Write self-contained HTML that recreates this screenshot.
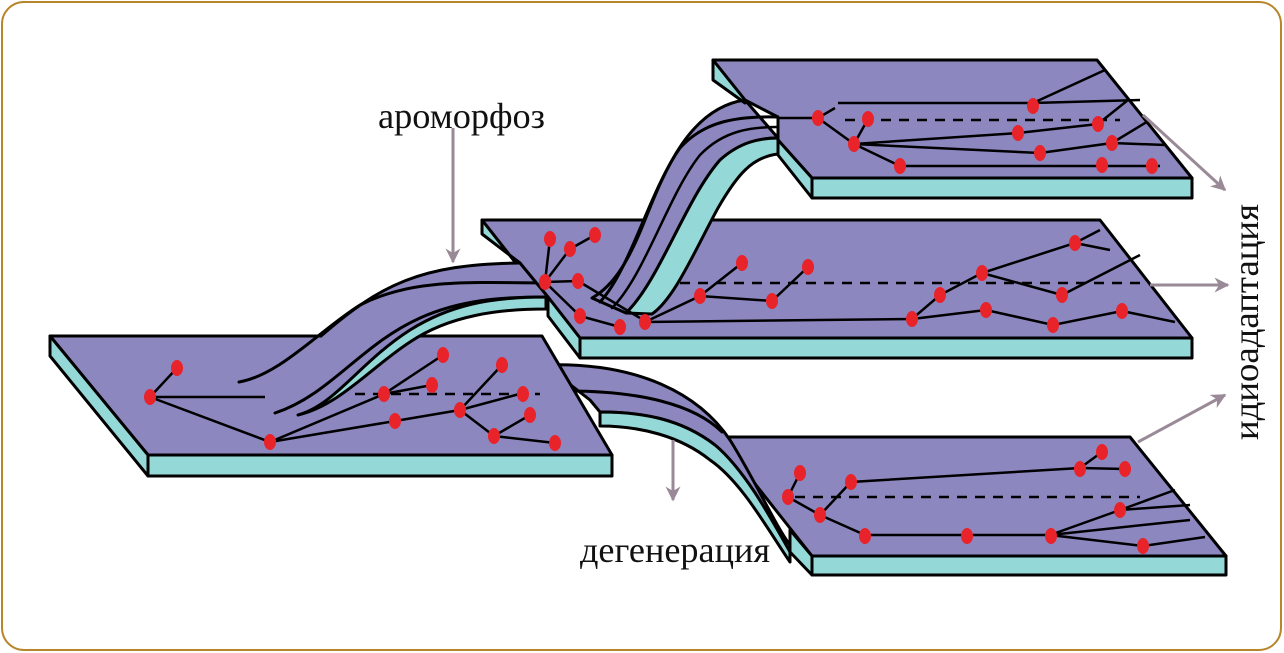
<!DOCTYPE html>
<html><head><meta charset="utf-8"><style>
html,body{margin:0;padding:0;background:#fff;}
svg{display:block;}
text{font-family:"Liberation Serif",serif;fill:#111;}
</style></head><body>
<svg width="1284" height="653" viewBox="0 0 1284 653" xmlns="http://www.w3.org/2000/svg">
<defs>
<marker id="ah" viewBox="0 0 10 10" refX="9" refY="5" markerWidth="5" markerHeight="5" orient="auto"><path d="M0,0 L10,5 L0,10 L3,5 Z" fill="#9a8a97"/></marker>
</defs>
<rect x="2" y="2" width="1279" height="648" rx="22" fill="#fff" stroke="#b8862a" stroke-width="2"/>
<g stroke="#000" stroke-width="3" stroke-linejoin="round" stroke-linecap="round">

<polygon points="718,437 1130,437 1226,556 812,556" fill="#8d87bf"/>
<polygon points="812,556 1226,556 1226,575 812,575" fill="#95d8d8"/>
<polygon points="790,530 812,556 812,575 790,552" fill="#95d8d8"/>

<path d="M545,365 C640,362 700,395 730,440 C755,480 775,525 790,545 L790,552 C772,520 745,470 715,445 C680,418 640,412 600,412 L590,400 Z" fill="#8d87bf"/>
<path d="M600,412 C640,412 680,418 715,445 C745,470 772,520 790,552 L790,562 C768,530 742,482 710,460 C680,436 640,426 600,426 Z" fill="#95d8d8"/>
<path d="M560,391 C640,390 695,405 722,432" fill="none"/>

<polygon points="50,336 542,336 612,455 148,455" fill="#8d87bf"/>
<polygon points="148,455 612,455 612,476 148,476" fill="#95d8d8"/>
<polygon points="50,336 148,455 148,476 50,356" fill="#95d8d8"/>

<path d="M321,336 C380,285 420,264 520,263 L548,297 C460,298 430,320 380,370 C350,398 330,412 300,415 L275,413 C300,400 320,380 340,360 Z" fill="#8d87bf" stroke="none"/>
<path d="M321,336 C380,285 420,264 520,263" fill="none"/>
<path d="M275,413 C330,395 360,345 420,318 C460,300 500,297 546,297" fill="none"/>
<path d="M298,415 C340,405 370,368 410,342 C450,315 500,309 546,309 L546,297 C490,297 450,305 410,330 C360,362 335,405 298,415 Z" fill="#95d8d8"/>
<path d="M239,382 C280,375 320,330 360,305 C410,280 460,282 546,283" fill="none"/>

<polygon points="482,220 1100,220 1192,338 580,338 548,297 520,263 515,262" fill="#8d87bf"/>
<polygon points="580,338 1192,338 1192,358 580,358" fill="#95d8d8"/>
<polygon points="548,297 580,338 580,358 548,316" fill="#95d8d8"/>
<polygon points="482,220 515,262 520,263 482,234" fill="#95d8d8"/>

<path d="M745,100 C690,108 665,170 645,220 C630,258 615,285 592,298 L626,313 C660,280 685,200 720,160 C740,142 760,138 778,138 Z" fill="#8d87bf"/>
<path d="M626,313 C660,280 685,200 720,160 C740,142 760,138 778,138 L778,154 C752,157 737,175 718,208 C695,250 675,298 652,314 Z" fill="#95d8d8"/>
<path d="M600,302 C630,270 650,190 680,148 C705,120 740,116 778,117" fill="none"/>
<path d="M612,308 C645,275 668,195 700,155 C724,130 752,127 778,127" fill="none" stroke-width="2.5"/>

<polygon points="713,60 1097,60 1192,178 812,178 778,140 778,117 745,100" fill="#8d87bf"/>
<polygon points="812,178 1192,178 1192,198 812,198" fill="#95d8d8"/>
<polygon points="778,140 812,178 812,198 778,155" fill="#95d8d8"/>
<polygon points="713,60 745,100 745,103 713,80" fill="#95d8d8"/>
</g>

<g stroke="#000" stroke-width="2.5" fill="none">
<path d="M150,397 L177,368 M150,397 L265,397 M150,397 L270,442 L384,394 L443,355 M270,442 L395,421 L460,410 L523,393 M270,442 L384,394 L432,385 M460,410 L502,365 M460,410 L494,436 L530,415 M494,436 L555,443"/>
<path d="M355,394 L540,394" stroke-dasharray="10,8"/>
<path d="M545,282 L550,239 M545,282 L570,249 L595,235 M545,282 L578,281 M545,282 L580,316 L620,327 M578,281 L640,318 M645,322 L700,296 L742,263 M700,296 L772,301 L808,267 M645,322 L912,319 L940,295 L982,273 L1075,243 L1100,230 M912,319 L986,310 L1053,325 L1122,311 L1175,322 M982,273 L1062,295 L1140,255 M1075,243 L1110,250"/>
<path d="M680,283 L1145,283" stroke-dasharray="10,8"/>
<path d="M778,118 L818,118 L835,108 M818,118 L854,144 L868,119 M854,144 L900,166 L1160,166 M854,144 L1018,133 L1098,124 L1128,100 M854,144 L1040,153 L1112,143 L1150,120 M838,103 L1033,103 L1105,70 M1033,103 L1140,100 M1112,143 L1165,145"/>
<path d="M845,120 L1120,120" stroke-dasharray="10,8"/>
<path d="M788,497 L800,473 M788,497 L820,515 L851,482 L1080,468 L1102,452 M1080,468 L1125,469 M820,515 L865,535 L1050,535 L1120,510 L1175,490 M1050,535 L1190,520 M1050,535 L1143,546 L1205,537 M1120,510 L1190,505"/>
<path d="M795,497 L1140,497" stroke-dasharray="10,8"/>
</g>

<g fill="#e8232a">
<ellipse cx="150" cy="397" rx="6" ry="8"/><ellipse cx="177" cy="368" rx="6" ry="8"/>
<ellipse cx="270" cy="442" rx="6" ry="8"/><ellipse cx="384" cy="394" rx="6" ry="8"/>
<ellipse cx="443" cy="355" rx="6" ry="8"/><ellipse cx="432" cy="385" rx="6" ry="8"/>
<ellipse cx="395" cy="421" rx="6" ry="8"/><ellipse cx="460" cy="410" rx="6" ry="8"/>
<ellipse cx="502" cy="365" rx="6" ry="8"/><ellipse cx="523" cy="394" rx="6" ry="8"/>
<ellipse cx="530" cy="415" rx="6" ry="8"/><ellipse cx="494" cy="436" rx="6" ry="8"/>
<ellipse cx="555" cy="443" rx="6" ry="8"/>
<ellipse cx="550" cy="239" rx="6" ry="8"/><ellipse cx="570" cy="249" rx="6" ry="8"/>
<ellipse cx="595" cy="235" rx="6" ry="8"/><ellipse cx="545" cy="282" rx="6" ry="8"/>
<ellipse cx="578" cy="281" rx="6" ry="8"/><ellipse cx="580" cy="316" rx="6" ry="8"/>
<ellipse cx="620" cy="327" rx="6" ry="8"/><ellipse cx="645" cy="322" rx="6" ry="8"/>
<ellipse cx="700" cy="296" rx="6" ry="8"/><ellipse cx="742" cy="263" rx="6" ry="8"/>
<ellipse cx="772" cy="301" rx="6" ry="8"/><ellipse cx="808" cy="267" rx="6" ry="8"/>
<ellipse cx="912" cy="319" rx="6" ry="8"/><ellipse cx="940" cy="295" rx="6" ry="8"/>
<ellipse cx="982" cy="273" rx="6" ry="8"/><ellipse cx="986" cy="310" rx="6" ry="8"/>
<ellipse cx="1053" cy="325" rx="6" ry="8"/><ellipse cx="1062" cy="295" rx="6" ry="8"/>
<ellipse cx="1075" cy="243" rx="6" ry="8"/><ellipse cx="1122" cy="311" rx="6" ry="8"/>
<ellipse cx="818" cy="118" rx="6" ry="8"/><ellipse cx="868" cy="119" rx="6" ry="8"/>
<ellipse cx="854" cy="144" rx="6" ry="8"/><ellipse cx="900" cy="166" rx="6" ry="8"/>
<ellipse cx="1033" cy="106" rx="6" ry="8"/><ellipse cx="1018" cy="133" rx="6" ry="8"/>
<ellipse cx="1098" cy="124" rx="6" ry="8"/><ellipse cx="1040" cy="153" rx="6" ry="8"/>
<ellipse cx="1112" cy="143" rx="6" ry="8"/><ellipse cx="1102" cy="165" rx="6" ry="8"/>
<ellipse cx="1152" cy="166" rx="6" ry="8"/>
<ellipse cx="800" cy="473" rx="6" ry="8"/><ellipse cx="788" cy="497" rx="6" ry="8"/>
<ellipse cx="820" cy="515" rx="6" ry="8"/><ellipse cx="851" cy="482" rx="6" ry="8"/>
<ellipse cx="865" cy="536" rx="6" ry="8"/><ellipse cx="967" cy="536" rx="6" ry="8"/>
<ellipse cx="1051" cy="536" rx="6" ry="8"/><ellipse cx="1080" cy="469" rx="6" ry="8"/>
<ellipse cx="1102" cy="452" rx="6" ry="8"/><ellipse cx="1125" cy="469" rx="6" ry="8"/>
<ellipse cx="1120" cy="510" rx="6" ry="8"/><ellipse cx="1143" cy="546" rx="6" ry="8"/>
</g>

<g stroke="#9a8a97" stroke-width="3" fill="none" marker-end="url(#ah)">
<line x1="453" y1="128" x2="453" y2="262"/>
<line x1="673" y1="440" x2="673" y2="500"/>
<line x1="1143" y1="115" x2="1225" y2="190"/>
<line x1="1150" y1="285" x2="1228" y2="285"/>
<line x1="1138" y1="442" x2="1225" y2="395"/>
</g>

<text x="378" y="128" font-size="36" textLength="167" lengthAdjust="spacingAndGlyphs">ароморфоз</text>
<text x="580" y="562" font-size="36" textLength="190" lengthAdjust="spacingAndGlyphs">дегенерация</text>
<text x="0" y="0" font-size="36" textLength="236" lengthAdjust="spacingAndGlyphs" transform="translate(1258,440) rotate(-90)">идиоадаптация</text>
</svg>
</body></html>
